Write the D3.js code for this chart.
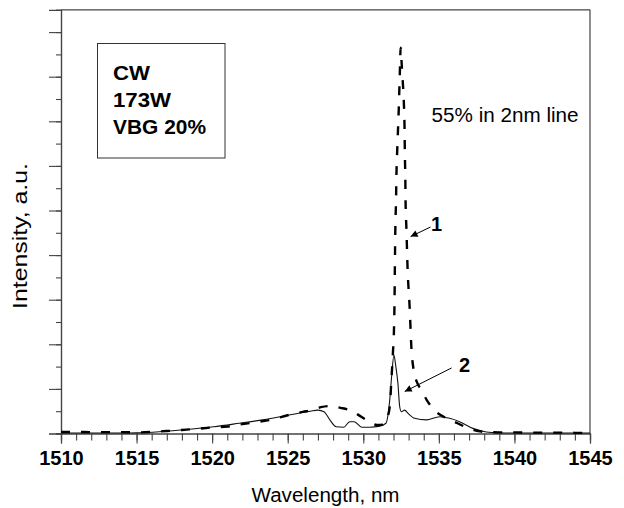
<!DOCTYPE html>
<html>
<head>
<meta charset="utf-8">
<script src="https://cdn.jsdelivr.net/npm/d3@7"></script>
<style>
  html, body { margin: 0; padding: 0; background: #fff; }
  svg { display: block; }
  text { font-family: "Liberation Sans", Arial, sans-serif; fill: #000; }
</style>
</head>
<body>
<svg id="chart" width="624" height="508"></svg>
<script>
// ---- data ----
// Curve 1 (dashed): wavelength (nm) and intensity (a.u., one unit = one y tick)
const wl1 = [1510, 1511, 1512, 1513, 1514, 1515, 1516, 1517, 1518, 1519, 1520, 1521, 1522, 1523, 1524, 1525, 1526, 1526.6, 1527.2, 1527.8, 1528.5, 1529.2, 1529.8, 1530.4, 1530.9, 1531.3, 1531.53, 1531.75, 1531.86, 1531.96, 1532.03, 1532.07, 1532.09, 1532.12, 1532.17, 1532.19, 1532.23, 1532.29, 1532.34, 1532.38, 1532.42, 1532.47, 1532.52, 1532.60, 1532.68, 1532.73, 1532.75, 1532.78, 1532.80, 1532.85, 1532.93, 1533.07, 1533.18, 1533.33, 1533.55, 1533.84, 1534.2, 1534.7, 1535.4, 1536.2, 1536.9, 1537.6, 1538.3, 1539, 1540, 1541, 1542, 1543, 1544, 1545];
const int1 = [0.07, 0.07, 0.06, 0.06, 0.06, 0.05, 0.07, 0.11, 0.16, 0.21, 0.27, 0.31, 0.42, 0.52, 0.63, 0.82, 0.97, 1.05, 1.18, 1.23, 1.15, 1.02, 0.78, 0.53, 0.38, 0.40, 0.61, 1.19, 2.40, 3.61, 4.64, 6.12, 7.47, 9.13, 10.6, 11.5, 12.4, 13.5, 14.4, 15.3, 16.2, 17.3, 16.8, 15.9, 14.9, 13.7, 12.6, 11.5, 10.3, 9.26, 7.42, 5.63, 3.88, 2.85, 2.3, 1.95, 1.5, 1.05, 0.72, 0.47, 0.25, 0.11, 0.06, 0.05, 0.05, 0.04, 0.04, 0.04, 0.03, 0.03];
// Curve 2 (solid)
const wl2 = [1510, 1512, 1514, 1515, 1516.5, 1518.5, 1520.1, 1521.8, 1523.6, 1525.1, 1526.5, 1527.0, 1527.4, 1527.8, 1528.2, 1528.7, 1529.1, 1529.4, 1529.9, 1530.4, 1531.1, 1531.5, 1531.75, 1531.88, 1532.03, 1532.14, 1532.29, 1532.41, 1532.52, 1532.74, 1532.95, 1533.4, 1534.17, 1535.05, 1535.71, 1536.37, 1537.25, 1538.14, 1539, 1540, 1542, 1545];
const int2 = [0.02, 0.02, 0.02, 0.03, 0.08, 0.19, 0.30, 0.46, 0.64, 0.83, 1.00, 1.05, 0.98, 0.60, 0.30, 0.28, 0.53, 0.53, 0.28, 0.28, 0.33, 0.46, 1.50, 2.60, 3.52, 3.07, 2.26, 1.20, 0.98, 1.05, 0.91, 0.68, 0.61, 0.75, 0.68, 0.53, 0.23, 0.07, 0.03, 0.02, 0.02, 0.02];

// axes
const xDomain = [1510, 1545];
const yDomain = [0, 19];
const xTicksMajor = [1510, 1515, 1520, 1525, 1530, 1535, 1540, 1545];
const xTicksMinor = d3.range(1510, 1546, 1);
const yTicksMajor = d3.range(0, 20, 2);
const yTicksMinor = d3.range(0, 20, 1);

// texts
const xTitle = "Wavelength, nm";
const yTitle = "Intensity, a.u.";
const legendLines = ["CW", "173W", "VBG 20%"];
const legendWidths = [37, 58, 93];
const noteText = "55% in 2nm line";
// annotation anchors in data units: [label, labelX, labelY, fromX, fromY, tipX, tipY]
const labels = [
  ["1", 1534.85, 9.1, 1534.45, 9.26, 1533.13, 8.83],
  ["2", 1536.70, 2.76, 1535.84, 2.94, 1532.74, 1.88]
];
const notePos = [1534.52, 13.97];

// ---- drawing ----
const svg = d3.select("#chart");
const x = d3.scaleLinear().domain(xDomain).range([61, 590]);
const y = d3.scaleLinear().domain(yDomain).range([433.5, 9.8]);
const axisColor = "#444";

svg.append("defs").append("marker")
  .attr("id", "arrow").attr("viewBox", "0 0 10 10")
  .attr("refX", 10).attr("refY", 5)
  .attr("markerWidth", 10).attr("markerHeight", 7)
  .attr("markerUnits", "userSpaceOnUse")
  .attr("orient", "auto")
  .append("path").attr("d", "M0,0 L10,5 L0,10 Z").attr("fill", "#000");

// frame (top and right)
svg.append("line").attr("x1", x(xDomain[0])).attr("x2", x(xDomain[1]))
  .attr("y1", y(yDomain[1])).attr("y2", y(yDomain[1]))
  .attr("stroke", axisColor).attr("stroke-width", 1.2);
svg.append("line").attr("x1", x(xDomain[1])).attr("x2", x(xDomain[1]))
  .attr("y1", y(yDomain[0])).attr("y2", y(yDomain[1]))
  .attr("stroke", axisColor).attr("stroke-width", 1.2);

// x axis
svg.append("g").attr("transform", `translate(0,${y(0)})`)
  .call(d3.axisBottom(x).tickValues(xTicksMinor).tickSize(7).tickFormat(""));
const gx = svg.append("g").attr("transform", `translate(0,${y(0)})`)
  .call(d3.axisBottom(x).tickValues(xTicksMajor).tickSize(10).tickPadding(7).tickFormat(d3.format("d")));
gx.selectAll("text").attr("font-size", 20).attr("font-weight", "bold")
  .attr("font-family", "Liberation Sans, Arial, sans-serif").attr("fill", "#000");

// y axis
svg.append("g").attr("transform", `translate(${x(xDomain[0])},0)`)
  .call(d3.axisLeft(y).tickValues(yTicksMinor).tickSize(5).tickFormat(""));
svg.append("g").attr("transform", `translate(${x(xDomain[0])},0)`)
  .call(d3.axisLeft(y).tickValues(yTicksMajor).tickSize(12).tickFormat(""));

svg.selectAll(".domain").attr("stroke", axisColor).attr("stroke-width", 1.2);
svg.selectAll(".tick line").attr("stroke", axisColor).attr("stroke-width", 1.1);

// curves
const line = d3.line().x(d => x(d[0])).y(d => y(d[1])).curve(d3.curveMonotoneX);
svg.append("path").datum(wl2.map((w, i) => [w, int2[i]]))
  .attr("d", line).attr("fill", "none").attr("stroke", "#111").attr("stroke-width", 1.1);
svg.append("path").datum(wl1.map((w, i) => [w, int1[i]]))
  .attr("d", line).attr("fill", "none").attr("stroke", "#000")
  .attr("stroke-width", 2.4).attr("stroke-dasharray", "9,11");

// annotations
labels.forEach(([t, lx, ly, fx, fy, tx, ty]) => {
  svg.append("line").attr("x1", x(fx)).attr("y1", y(fy)).attr("x2", x(tx)).attr("y2", y(ty))
    .attr("stroke", "#000").attr("stroke-width", 1).attr("marker-end", "url(#arrow)");
  svg.append("text").attr("x", x(lx)).attr("y", y(ly)).attr("text-anchor", "middle")
    .attr("font-size", 20).attr("font-weight", "bold").text(t);
});
svg.append("text").attr("x", x(notePos[0])).attr("y", y(notePos[1]))
  .attr("font-size", 19.5).attr("textLength", 147).attr("lengthAdjust", "spacingAndGlyphs").text(noteText);

// legend box
const lg = svg.append("g");
lg.append("rect").attr("x", 97.5).attr("y", 43.5).attr("width", 127.5).attr("height", 114.5)
  .attr("fill", "#fff").attr("stroke", "#333").attr("stroke-width", 1);
legendLines.forEach((t, i) => {
  lg.append("text").attr("x", 113).attr("y", 80 + i * 27)
    .attr("font-size", 19.5).attr("font-weight", "bold")
    .attr("textLength", legendWidths[i]).attr("lengthAdjust", "spacingAndGlyphs").text(t);
});

// axis titles
svg.append("text").attr("x", (x(xDomain[0]) + x(xDomain[1])) / 2).attr("y", 501.5)
  .attr("text-anchor", "middle").attr("font-size", 20)
  .attr("textLength", 148).attr("lengthAdjust", "spacingAndGlyphs").text(xTitle);
svg.append("text").attr("transform", `translate(27,236) rotate(-90)`)
  .attr("text-anchor", "middle").attr("font-size", 20)
  .attr("textLength", 146).attr("lengthAdjust", "spacingAndGlyphs").text(yTitle);
</script>
</body>
</html>
